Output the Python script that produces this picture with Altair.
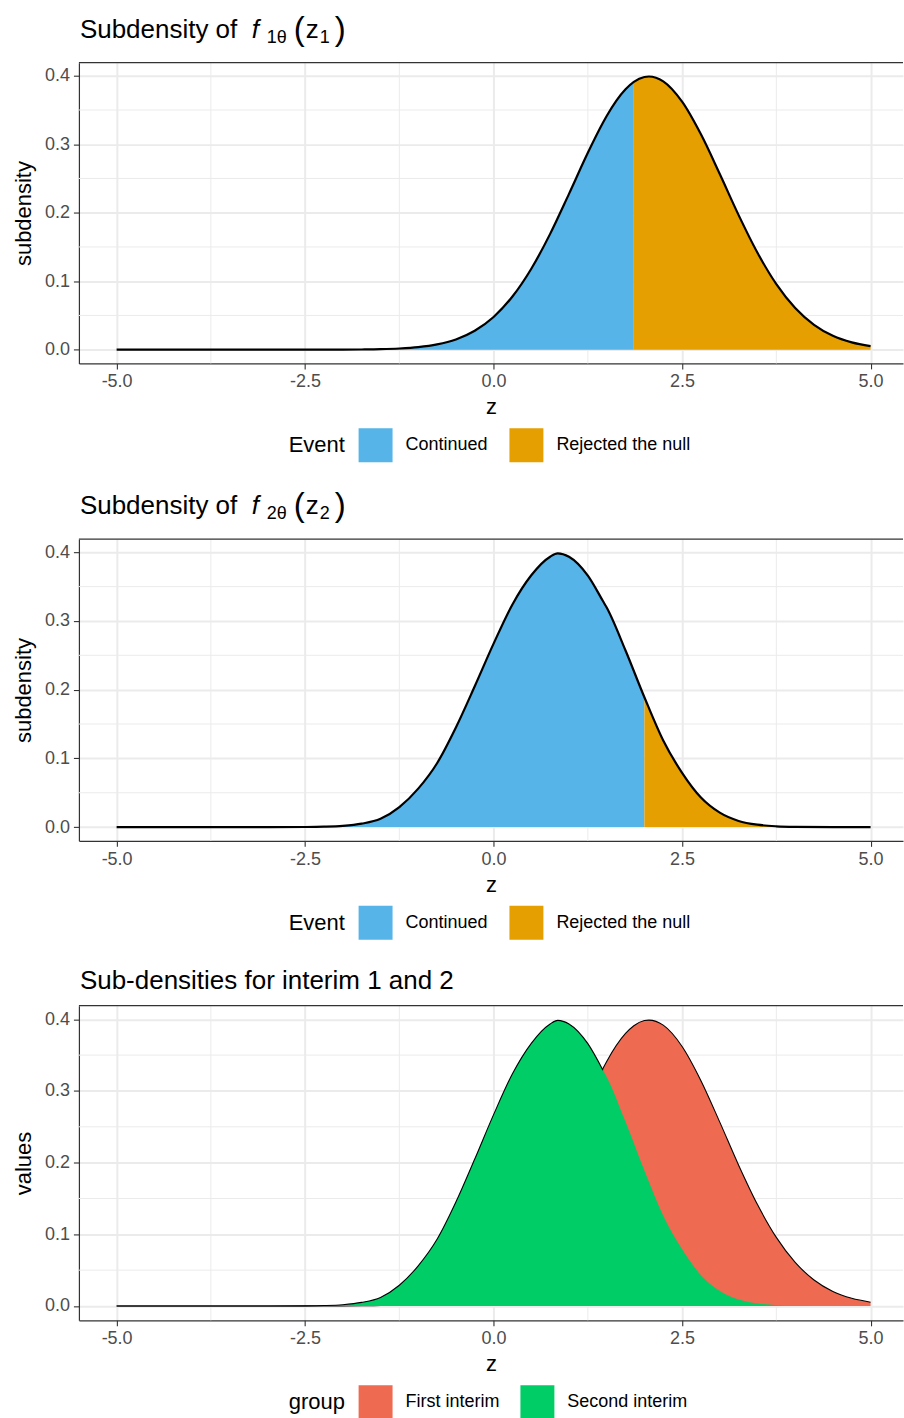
import altair as alt
import pandas as pd

# ---------------- data ----------------
# panel 1 : sub-density of z1 (first interim)
Z1 = [-5.0, -4.0, -3.0, -2.5, -2.0, -1.75, -1.5, -1.25, -1.0, -0.75, -0.5, -0.25,
      0.0, 0.25, 0.5, 0.75, 1.0, 1.25, 1.45, 1.5, 1.75, 1.86, 2.0, 2.06,
      2.25, 2.5, 2.75, 3.0, 3.25, 3.5, 3.75, 4.0, 4.25, 4.5, 4.75, 5.0]
D1 = [0.0, 0.0, 0.0, 0.0, 0.0001, 0.0003, 0.0007, 0.0017, 0.0037, 0.0077, 0.0150, 0.0277,
      0.0478, 0.0776, 0.1182, 0.1691, 0.2275, 0.2874, 0.3312, 0.3411, 0.3802, 0.3910, 0.3982, 0.3989,
      0.3918, 0.3621, 0.3144, 0.2565, 0.1965, 0.1415, 0.0957, 0.0608, 0.0363, 0.0203, 0.0107, 0.0053]
SPLIT1 = 1.86

# panel 2 : sub-density of z2 (second interim)
Z2 = [-5.0, -4.0, -3.0, -2.5, -2.25, -2.0, -1.75, -1.5, -1.25, -1.0, -0.75, -0.5,
      -0.25, 0.0, 0.25, 0.5, 0.75, 0.85, 1.0, 1.25, 1.45, 1.5, 1.75, 2.0,
      2.25, 2.5, 2.75, 3.0, 3.25, 3.5, 3.75, 4.0, 4.5, 5.0]
D2 = [0.0, 0.0, 0.0, 0.0002, 0.0006, 0.0018, 0.005, 0.012, 0.029, 0.056, 0.093, 0.145,
      0.205, 0.267, 0.324, 0.3665, 0.3935, 0.3985, 0.3935, 0.366, 0.329, 0.3195, 0.257, 0.189,
      0.126, 0.079, 0.043, 0.021, 0.009, 0.0035, 0.0012, 0.0004, 0.0, 0.0]
SPLIT2 = 2.0

CROSS = 1.45  # where the two curves cross in panel 3

EVENTS = ["Continued", "Rejected the null"]
EVENT_COLORS = ["#56B4E9", "#E69F00"]
GROUPS = ["First interim", "Second interim"]
GROUP_COLORS = ["#EE6A50", "#00CD66"]

X_TICKS = [-5.0, -2.5, 0.0, 2.5, 5.0]
X_MINOR = [-3.75, -1.25, 1.25, 3.75]
Y_TICKS = [0.0, 0.1, 0.2, 0.3, 0.4]
Y_MINOR = [0.05, 0.15, 0.25, 0.35]

# ---------------- styling ----------------
FONT = "Liberation Sans"
W = 825
H1, H2, H3 = 301, 302, 315
XDOM = [-5.5, 5.43]
YDOM = [-0.02, 0.419]
GRID = "#EBEBEB"
DARK = "#333333"
LABEL_EXPR = "datum.value < 0 ? '-' + format(-datum.value, '.1f') : format(datum.value, '.1f')"

xscale = alt.Scale(domain=XDOM, nice=False, zero=False)
yscale = alt.Scale(domain=YDOM, nice=False, zero=False)


def xaxis():
    return alt.Axis(values=X_TICKS, labelExpr=LABEL_EXPR, title="z", grid=True)


def yaxis(title):
    return alt.Axis(values=Y_TICKS, format=".1f", title=title, grid=True)


def frame_layers(ytitle):
    mx = alt.Chart(pd.DataFrame({"v": X_MINOR})).mark_rule(color=GRID, strokeWidth=1).encode(
        x=alt.X("v:Q", scale=xscale, axis=xaxis()))
    my = alt.Chart(pd.DataFrame({"w": Y_MINOR})).mark_rule(color=GRID, strokeWidth=1).encode(
        y=alt.Y("w:Q", scale=yscale, axis=yaxis(ytitle)))
    return [mx, my]


def top_border():
    return alt.Chart(pd.DataFrame({"t": [0]})).mark_rule(color=DARK, strokeWidth=1.2).encode(
        x=alt.value(0), x2=alt.value(W), y=alt.value(0))


def text_piece(s, x, y, size, style="normal"):
    return alt.Chart(pd.DataFrame({"t": [0]})).mark_text(
        align="left", baseline="alphabetic", font=FONT, fontSize=size,
        fontStyle=style, color="black").encode(
        x=alt.value(x), y=alt.value(y), text=alt.value(s))


def math_title(sub, var_sub):
    base = -25
    return [
        text_piece("Subdensity of", 1, base, 26),
        text_piece("f", 173, base, 26, "italic"),
        text_piece(sub, 188, base + 5, 18),
        text_piece("(", 215, base + 2, 33),
        text_piece("z", 227, base, 26),
        text_piece(var_sub, 241, base + 5, 18),
        text_piece(")", 256, base + 2, 33),
    ]


def legend(title, h):
    return alt.Legend(title=title, orient="none", legendX=210, legendY=h + 65,
                      direction="horizontal", titleOrient="left",
                      symbolType="square", symbolSize=1156, symbolStrokeWidth=0,
                      symbolOpacity=1, labelFontSize=18, titleFontSize=22,
                      labelOffset=13, columnPadding=21, titlePadding=13,
                      labelFont=FONT, titleFont=FONT, titleFontWeight="normal",
                      labelColor="black", titleColor="black")


def split_panel(z, d, split, h, sub, var_sub):
    rows = []
    for zi, di in zip(z, d):
        if zi <= split:
            rows.append({"z": zi, "d": di, "Event": EVENTS[0]})
        if zi >= split:
            rows.append({"z": zi, "d": di, "Event": EVENTS[1]})
    df = pd.DataFrame(rows)
    dl = pd.DataFrame({"z": z, "d": d})
    area = alt.Chart(df).mark_area(interpolate="monotone", opacity=1).encode(
        x=alt.X("z:Q", scale=xscale, axis=xaxis()),
        y=alt.Y("d:Q", scale=yscale, axis=yaxis("subdensity"), stack=None),
        color=alt.Color("Event:N", scale=alt.Scale(domain=EVENTS, range=EVENT_COLORS),
                        legend=legend("Event", h)),
    )
    line = alt.Chart(dl).mark_line(interpolate="monotone", color="black", strokeWidth=2.2).encode(
        x=alt.X("z:Q", scale=xscale, axis=xaxis()),
        y=alt.Y("d:Q", scale=yscale, axis=yaxis("subdensity")),
    )
    layers = frame_layers("subdensity") + [area, line, top_border()] + math_title(sub, var_sub)
    return alt.layer(*layers).properties(width=W, height=h)


p1 = split_panel(Z1, D1, SPLIT1, H1, "1θ", "1")
p2 = split_panel(Z2, D2, SPLIT2, H2, "2θ", "2")

# panel 3
d_first = pd.DataFrame({"z": Z1, "d": D1, "group": GROUPS[0]})
d_second = pd.DataFrame({"z": Z2, "d": D2, "group": GROUPS[1]})
gscale = alt.Scale(domain=GROUPS, range=GROUP_COLORS)


def gx():
    return alt.X("z:Q", scale=xscale, axis=xaxis())


def gy():
    return alt.Y("d:Q", scale=yscale, axis=yaxis("values"), stack=None)


a_first = alt.Chart(d_first).mark_area(interpolate="monotone", opacity=1).encode(
    x=gx(), y=gy(), color=alt.Color("group:N", scale=gscale, legend=legend("group", H3)))
l_first = alt.Chart(d_first).mark_line(interpolate="monotone", color="black", strokeWidth=1.1).encode(
    x=gx(), y=gy())
a_second = alt.Chart(d_second).mark_area(interpolate="monotone", opacity=1).encode(
    x=gx(), y=gy(), color=alt.Color("group:N", scale=gscale, legend=legend("group", H3)))
l_second = alt.Chart(d_second[d_second["z"] <= CROSS]).mark_line(
    interpolate="monotone", color="black", strokeWidth=1.1).encode(x=gx(), y=gy())

p3 = alt.layer(*(frame_layers("values") + [a_first, l_first, a_second, l_second, top_border(),
                                           text_piece("Sub-densities for interim 1 and 2", 1, -17, 26)])
               ).properties(width=W, height=H3)

chart = alt.vconcat(p1, p2, p3, spacing=28).resolve_scale(color="independent").properties(
    padding={"left": 12, "top": 13, "right": 0, "bottom": 0}
).configure_view(stroke=None).configure_axis(
    gridColor=GRID, gridWidth=2, domainColor=DARK, domainWidth=1.2,
    tickColor=DARK, tickSize=5.5, tickWidth=1.1,
    labelFont=FONT, labelFontSize=18, labelColor="#4D4D4D", labelPadding=4,
    titleFont=FONT, titleFontSize=22, titleFontWeight="normal", titleColor="black",
    titlePadding=6
).configure_axisY(titlePadding=9)

chart.save("out.html", embed_options={"renderer": "svg", "actions": False})
